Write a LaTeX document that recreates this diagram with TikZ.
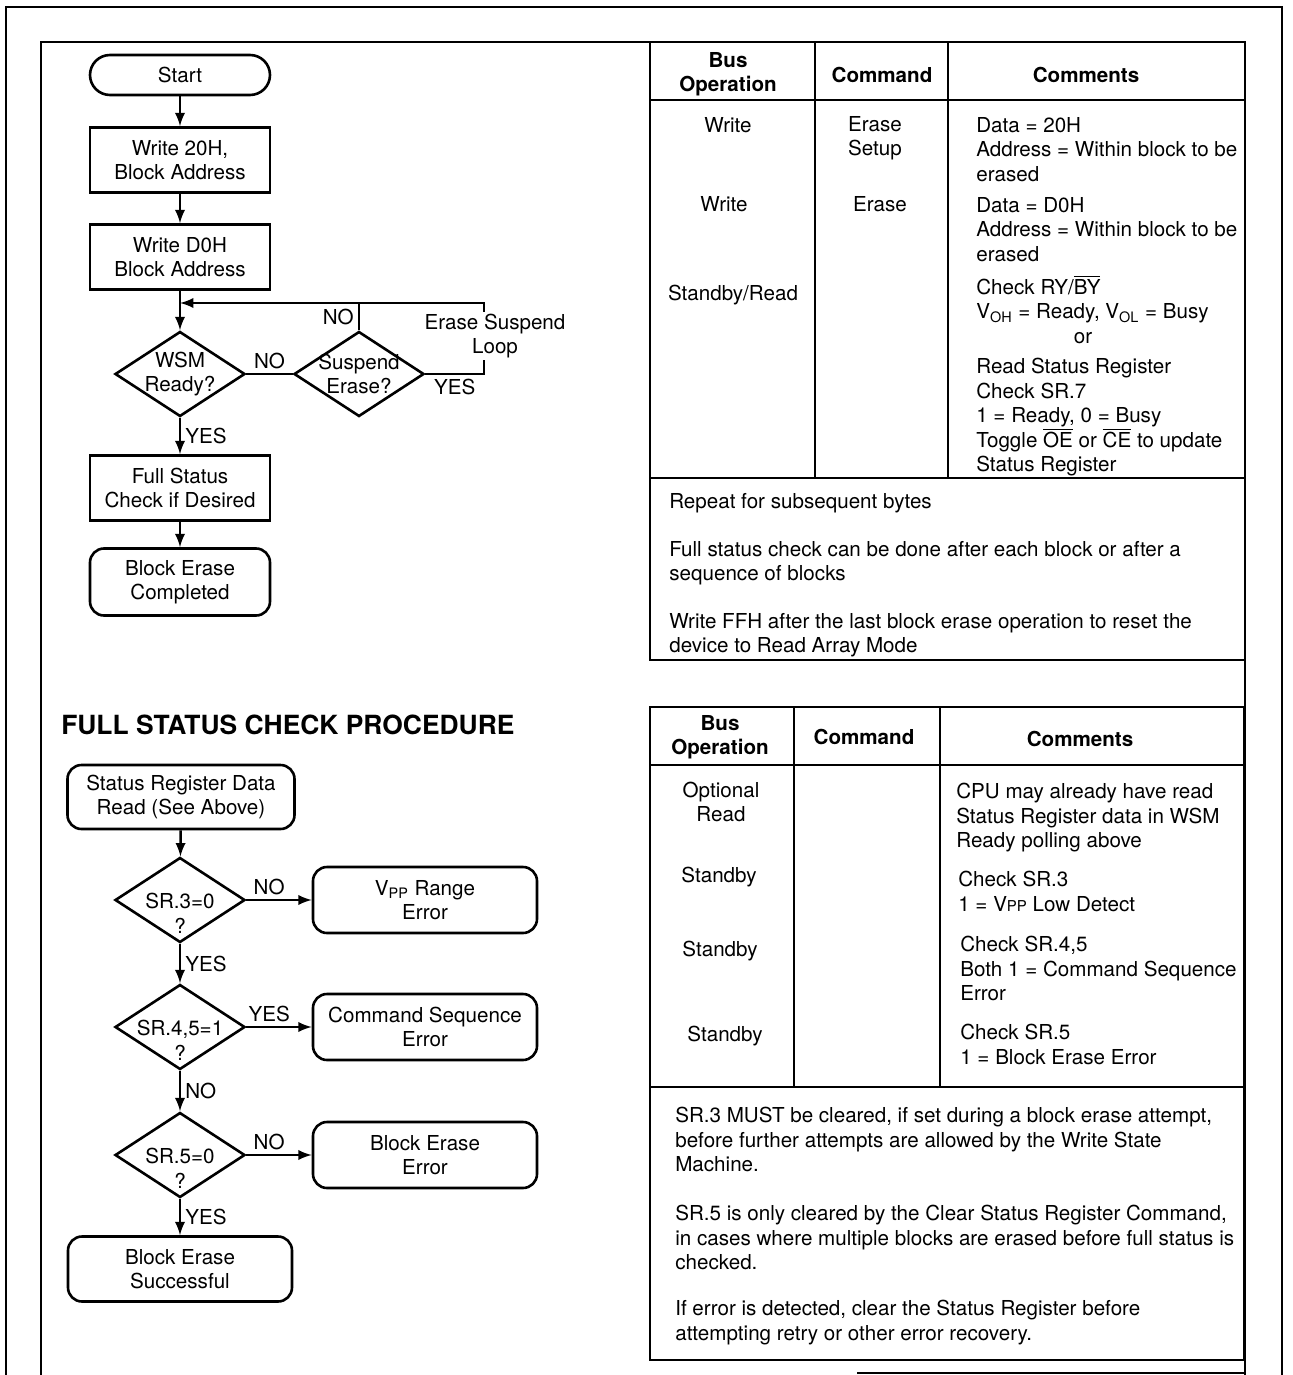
\documentclass[tikz,border=0pt]{standalone}
\usepackage{fontspec}
\setmainfont{TeX Gyre Heros}
\usetikzlibrary{shapes.geometric}
\newcommand{\basefont}{\fontsize{10.3}{12.25}\selectfont}
\newcommand{\smallpp}{{\fontsize{7.5}{9}\selectfont PP}}

\begin{document}
\begin{tikzpicture}[x=0.5pt, y=-0.5pt, line width=1.3pt, >=latex, font=\basefont,
  term/.style = {draw, rounded corners=7pt, minimum width=90pt, minimum height=33pt, align=center},
  proc/.style = {draw, minimum width=90pt, minimum height=32.5pt, align=center},
  dec/.style = {draw, diamond, minimum width=65pt, minimum height=42.5pt, inner xsep=-10pt, inner ysep=-8pt, align=center},
  err/.style = {term, minimum width=112pt},
  lab/.style = {inner sep=2pt},
  cell/.style = {anchor=north west, align=left, inner sep=0pt},
  head/.style = {align=center, font=\basefont\bfseries},
  node distance={122.5pt}]
\useasboundingbox (0,0) rectangle (1293,1375);

% frames
\draw (6,1375) -- (6,7) -- (1282,7) -- (1282,1375);
\draw (41,1375) -- (41,42) -- (1245,42) -- (1245,1375);
\draw (857,1373) -- (1245,1373);

% block erase flowchart
\node[term, rounded corners=10pt, minimum height=20pt] (1) at (180,75) {Start};
\node[proc] (2) at (180,160) {Write 20H,\\Block Address};
\node[proc] (3) at (180,257) {Write D0H\\Block Address};
\node[dec] (4) at (180,374) {WSM\\Ready?};
\node[dec] (5) at (359,374) {Suspend\\Erase?};
\node[proc] (6) at (180,488) {Full Status\\Check if Desired};
\node[term, minimum height=33.5pt] (7) at (180,582) {Block Erase\\Completed};
\coordinate (8) at (180,303);
\coordinate (9) at (484,303);

\draw[->] (1) -- (2);
\draw[->] (2) -- (3);
\draw[->] (3) -- (4);
\draw (4) -- node[lab, midway, above] {NO} (5);
\draw (5) -- node[lab, midway, left] {NO} (5 |- 8);
\draw[->] (5) -- node[lab, midway, below] {YES} (5 -| 9) -- (9) -- (8);
\draw[->] (4) -- node[lab, midway, right] {YES} (6);
\draw[->] (6) -- (7);
\node[align=center, fill=white, inner sep=1pt] (10) at (495,336) {Erase Suspend\\Loop};

% full status check flowchart
\node[anchor=west, inner sep=0pt, font=\fontsize{13.2}{15}\selectfont\bfseries] (title) at (60,725) {FULL STATUS CHECK PROCEDURE};
\node[term, minimum width=113.5pt, minimum height=32pt] (11) at (181,797) {Status Register Data\\Read (See Above)};
\node[dec] (12) at (180,900) {\strut\\SR.3=0\\?};
\node[err] (13) [right of=12] {V\textsubscript{PP} Range\\Error};
\node[dec] (14) at (180,1027) {\strut\\SR.4,5=1\\?};
\node[err] (15) [right of=14] {Command Sequence\\Error};
\node[dec] (16) at (180,1155) {\strut\\SR.5=0\\?};
\node[err] (17) [right of=16] {Block Erase\\Error};
\node[err, minimum height=32.5pt] (18) at (180,1269) {Block Erase\\Successful};

\draw[->] (11) -- (12);
\draw[->] (12) -- node[lab, pos=0.35, above] {NO} (13);
\draw[->] (12) -- node[lab, midway, right] {YES} (14);
\draw[->] (14) -- node[lab, pos=0.35, above] {YES} (15);
\draw[->] (14) -- node[lab, midway, right] {NO} (16);
\draw[->] (16) -- node[lab, pos=0.35, above] {NO} (17);
\draw[->] (16) -- node[lab, midway, right] {YES} (18);

% block erase table
\draw (650,42) rectangle (1245,660);
\draw (650,100) -- (1245,100);
\draw (650,478) -- (1245,478);
\draw (815,42) -- (815,478);
\draw (948,42) -- (948,478);
\node[head] (bus1) at (728,74) {Bus\\Operation};
\node[head] (cmd1) at (882,75) {Command};
\node[head] (com1) at (1086,75) {Comments};
\node (op1) at (728,125) {Write};
\node (op2) at (724,204) {Write};
\node (op3) at (733,295) {Standby/Read};
\node[align=center] (c1) at (875,138) {Erase\\Setup};
\node (c2) at (880,204) {Erase};
\node[cell] (n1) at (975,116) {Data = 20H\\Address = Within block to be\\erased};
\node[cell] (n2) at (975,196) {Data = D0H\\Address = Within block to be\\erased};
\node[cell] (n3) at (975,274) {Check RY/$\overline{\mbox{BY}}$\\V\textsubscript{OH} = Ready, V\textsubscript{OL} = Busy};
\node (n4) at (1083,338) {or};
\node[cell] (n5) at (975,357) {Read Status Register\\Check SR.7\\1 = Ready, 0 = Busy\\Toggle $\overline{\mbox{OE}}$ or $\overline{\mbox{CE}}$ to update\\Status Register};
\node[cell] (f1) at (668,492) {Repeat for subsequent bytes};
\node[cell] (f2) at (668,540) {Full status check can be done after each block or after a\\sequence of blocks};
\node[cell] (f3) at (668,612) {Write FFH after the last block erase operation to reset the\\device to Read Array Mode};

% full status check table
\draw (650,707) rectangle (1244,1360);
\draw (650,765) -- (1244,765);
\draw (650,1087) -- (1244,1087);
\draw (794,707) -- (794,1087);
\draw (940,707) -- (940,1087);
\node[head] (bus2) at (720,737) {Bus\\Operation};
\node[head] (cmd2) at (864,737) {Command};
\node[head] (com2) at (1080,739) {Comments};
\node[align=center] (op4) at (721,802) {Optional\\Read};
\node (op5) at (719,877) {Standby};
\node (op6) at (720,951) {Standby};
\node (op7) at (725,1036) {Standby};
\node[cell] (n6) at (955,782) {CPU may already have read\\Status Register data in WSM\\Ready polling above};
\node[cell] (n7) at (957,870) {Check SR.3\\1 = V\smallpp{} Low Detect};
\node[cell] (n8) at (959,935) {Check SR.4,5\\Both 1 = Command Sequence\\Error};
\node[cell] (n9) at (959,1023) {Check SR.5\\1 = Block Erase Error};
\node[cell] (f4) at (674,1106) {SR.3 MUST be cleared, if set during a block erase attempt,\\before further attempts are allowed by the Write State\\Machine.};
\node[cell] (f5) at (674,1204) {SR.5 is only cleared by the Clear Status Register Command,\\in cases where multiple blocks are erased before full status is\\checked.};
\node[cell] (f6) at (674,1299) {If error is detected, clear the Status Register before\\attempting retry or other error recovery.};
\end{tikzpicture}
\end{document}
